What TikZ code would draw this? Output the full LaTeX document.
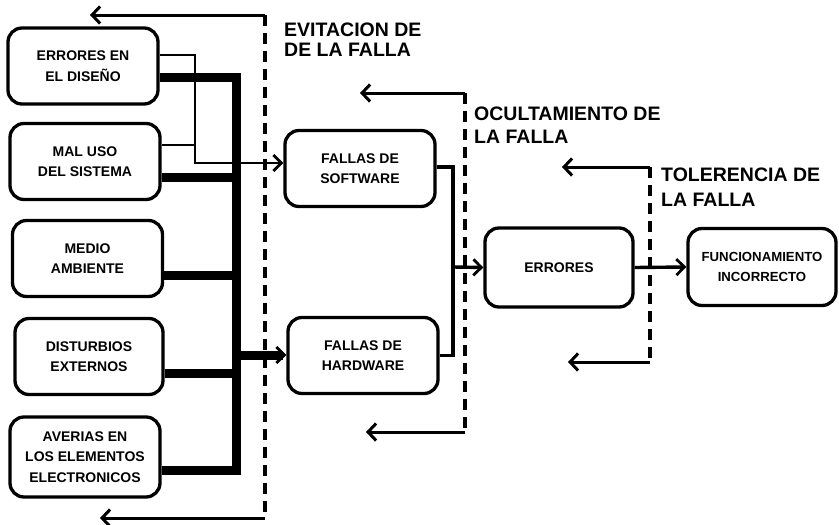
\documentclass[tikz,border=0pt]{standalone}
\usepackage{fontspec}
\setmainfont{Liberation Sans}
\usetikzlibrary{arrows.meta,calc}
\begin{document}
\begin{tikzpicture}[x=1pt,y=-1pt,
  box/.style={draw,line width=3.3pt,rounded corners=14pt,minimum width=150pt,minimum height=76pt,
    align=center,inner sep=1pt,font=\fontsize{14}{20.5}\selectfont\bfseries},
  lbl/.style={anchor=north west,inner sep=0pt,align=left},
  thinl/.style={line width=2.8pt},
  medl/.style={line width=3.4pt},
  heavy/.style={line width=9pt},
  dashl/.style={line width=4pt,dash pattern=on 11pt off 7pt},
  arr/.style={-{Straight Barb[length=8pt,width=16pt,line width=2.8pt]}},
  larr/.style={line width=3pt,-{Straight Barb[length=8pt,width=17pt,line width=3pt]}}
]
\useasboundingbox (0,0) rectangle (839,525);
\fill[white] (0,0) rectangle (839,525);

% left boxes
\node[box] (b1) at (83,66) {ERRORES EN\\EL DISEÑO};
\node[box] (b2) at (85,161.5) {MAL USO\\DEL SISTEMA};
\node[box] (b3) at (87.5,258.5) {MEDIO\\AMBIENTE};
\node[box,minimum width=148pt] (b4) at (89,356.5) {DISTURBIOS\\EXTERNOS};
\node[box,minimum height=80pt] (b5) at (85,457) {AVERIAS EN\\LOS ELEMENTOS\\ELECTRONICOS};

% middle boxes
\node[box] (sw) at (360,168.5) {FALLAS DE\\SOFTWARE};
\node[box] (hw) at (363,355.5) {FALLAS DE\\HARDWARE};
\node[box,minimum width=148pt,minimum height=79pt] (err) at (559,267.5) {ERRORES};
\node[box,minimum width=148pt,minimum height=77pt,font=\fontsize{13.2}{20.5}\selectfont\bfseries] (func) at (762,267) {FUNCIONAMIENTO\\INCORRECTO};

% labels
\node[lbl,font=\fontsize{19.5}{19.5}\selectfont\bfseries] (evit) at (284,23) {EVITACION DE\\DE LA FALLA};
\node[lbl,font=\fontsize{19.5}{22.5}\selectfont\bfseries] (ocul) at (474,107) {OCULTAMIENTO DE\\LA FALLA};
\node[lbl,font=\fontsize{19.5}{24.5}\selectfont\bfseries] (tole) at (661,168) {TOLERENCIA DE\\LA FALLA};

% junction coordinates
\coordinate (j1) at (195,163);
\coordinate (bt) at (236,77);
\coordinate (bb) at (236,470);
\coordinate (bh) at (236,355);
\coordinate (j2) at (453,267);

% thin connectors to software
\draw[thinl,arr] (b1.east |- 0,55) -| (j1) -- (sw.west |- j1);
\draw[thinl] (b2.east |- 0,145) -- (j1 |- 0,145);

% thick bus to hardware
\draw[heavy] (b1.east |- bt) -- (bt) -- (bb) -- (b5.east |- bb);
\draw[heavy] (b2.east |- 0,177) -- (bt |- 0,177);
\draw[heavy] (b3.east |- 0,275) -- (bt |- 0,275);
\draw[heavy] (b4.east |- 0,373) -- (bt |- 0,373);
\draw[heavy,arr] (bh) -- (hw.west |- bh);

% software/hardware to errores
\draw[medl] (sw.east |- 0,167) -| (j2) |- (hw.east);
\draw[medl,arr] (j2) -- (err.west);
\draw[medl,arr] (err.east) -- (func.west);

% barriers
\coordinate (d1t) at (265,15);
\coordinate (d1b) at (265,518);
\coordinate (e1t) at (90,15);
\coordinate (e1b) at (100,518);
\draw[dashl] (d1t) -- (d1b);
\draw[larr] (d1t) -- (e1t);
\draw[larr] (d1b) -- (e1b);

\coordinate (d2t) at (465,93);
\coordinate (d2b) at (465,432);
\coordinate (e2t) at (360,93);
\coordinate (e2b) at (366,432);
\draw[dashl] (d2t) -- (d2b);
\draw[larr] (d2t) -- (e2t);
\draw[larr] (d2b) -- (e2b);

\coordinate (d3t) at (650,167);
\coordinate (d3b) at (650,362);
\coordinate (e3t) at (562,167);
\coordinate (e3b) at (568,362);
\draw[dashl] (d3t) -- (d3b);
\draw[larr] (d3t) -- (e3t);
\draw[larr] (d3b) -- (e3b);
\end{tikzpicture}
\end{document}
